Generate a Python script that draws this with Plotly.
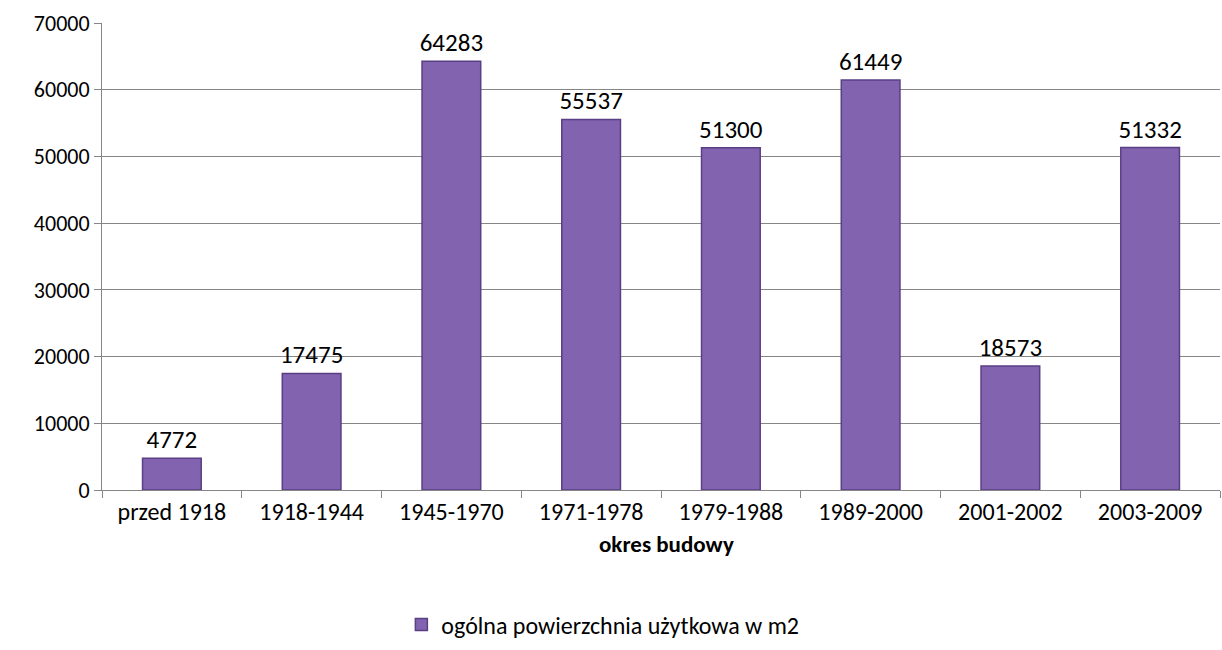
import plotly.graph_objects as go

categories = ["przed 1918", "1918-1944", "1945-1970", "1971-1978", "1979-1988", "1989-2000", "2001-2002", "2003-2009"]
values = [4772, 17475, 64283, 55537, 51300, 61449, 18573, 51332]
series_name = "ogólna powierzchnia użytkowa w m2"
x_title = "okres budowy"
y_ticks = [0, 10000, 20000, 30000, 40000, 50000, 60000, 70000]

FONT = "Carlito, Calibri, Lato, sans-serif"

fig = go.Figure()
fig.add_trace(go.Bar(
    x=categories, y=values, name=series_name,
    marker=dict(color="#8163b0", line=dict(color="#5a3f84", width=1.5)),
    text=[str(v) for v in values], textposition="outside",
    constraintext="none",
    textfont=dict(family=FONT, size=25, color="black"),
    cliponaxis=False,
))

fig.add_annotation(
    text="<b>" + x_title + "</b>", xref="paper", yref="paper",
    x=0.505, y=-0.116, xanchor="center", yanchor="middle", showarrow=False,
    font=dict(family=FONT, size=23, color="black"),
)

fig.update_layout(
    width=1222, height=650,
    margin=dict(l=102, r=2, t=23, b=160),
    paper_bgcolor="white", plot_bgcolor="white",
    bargap=0.58,
    font=dict(family=FONT, size=23, color="black"),
    showlegend=True,
    legend=dict(orientation="h", x=0.448, xanchor="center", y=-0.289, yanchor="middle",
                font=dict(family=FONT, size=24), itemwidth=30),
    xaxis=dict(
        showgrid=False, showline=True, linecolor="#868686", linewidth=1,
        ticks="outside", ticklen=7, tickcolor="#868686", tickson="boundaries",
        tickfont=dict(family=FONT, size=24),
    ),
    yaxis=dict(
        range=[0, 70000], tickvals=y_ticks, tickformat="d",
        showgrid=True, gridcolor="#868686", gridwidth=1,
        showline=True, linecolor="#868686", linewidth=1,
        ticks="outside", ticklen=7, tickcolor="#868686",
        tickfont=dict(family=FONT, size=22), zeroline=False,
    ),
)

fig.write_html("out.html")
